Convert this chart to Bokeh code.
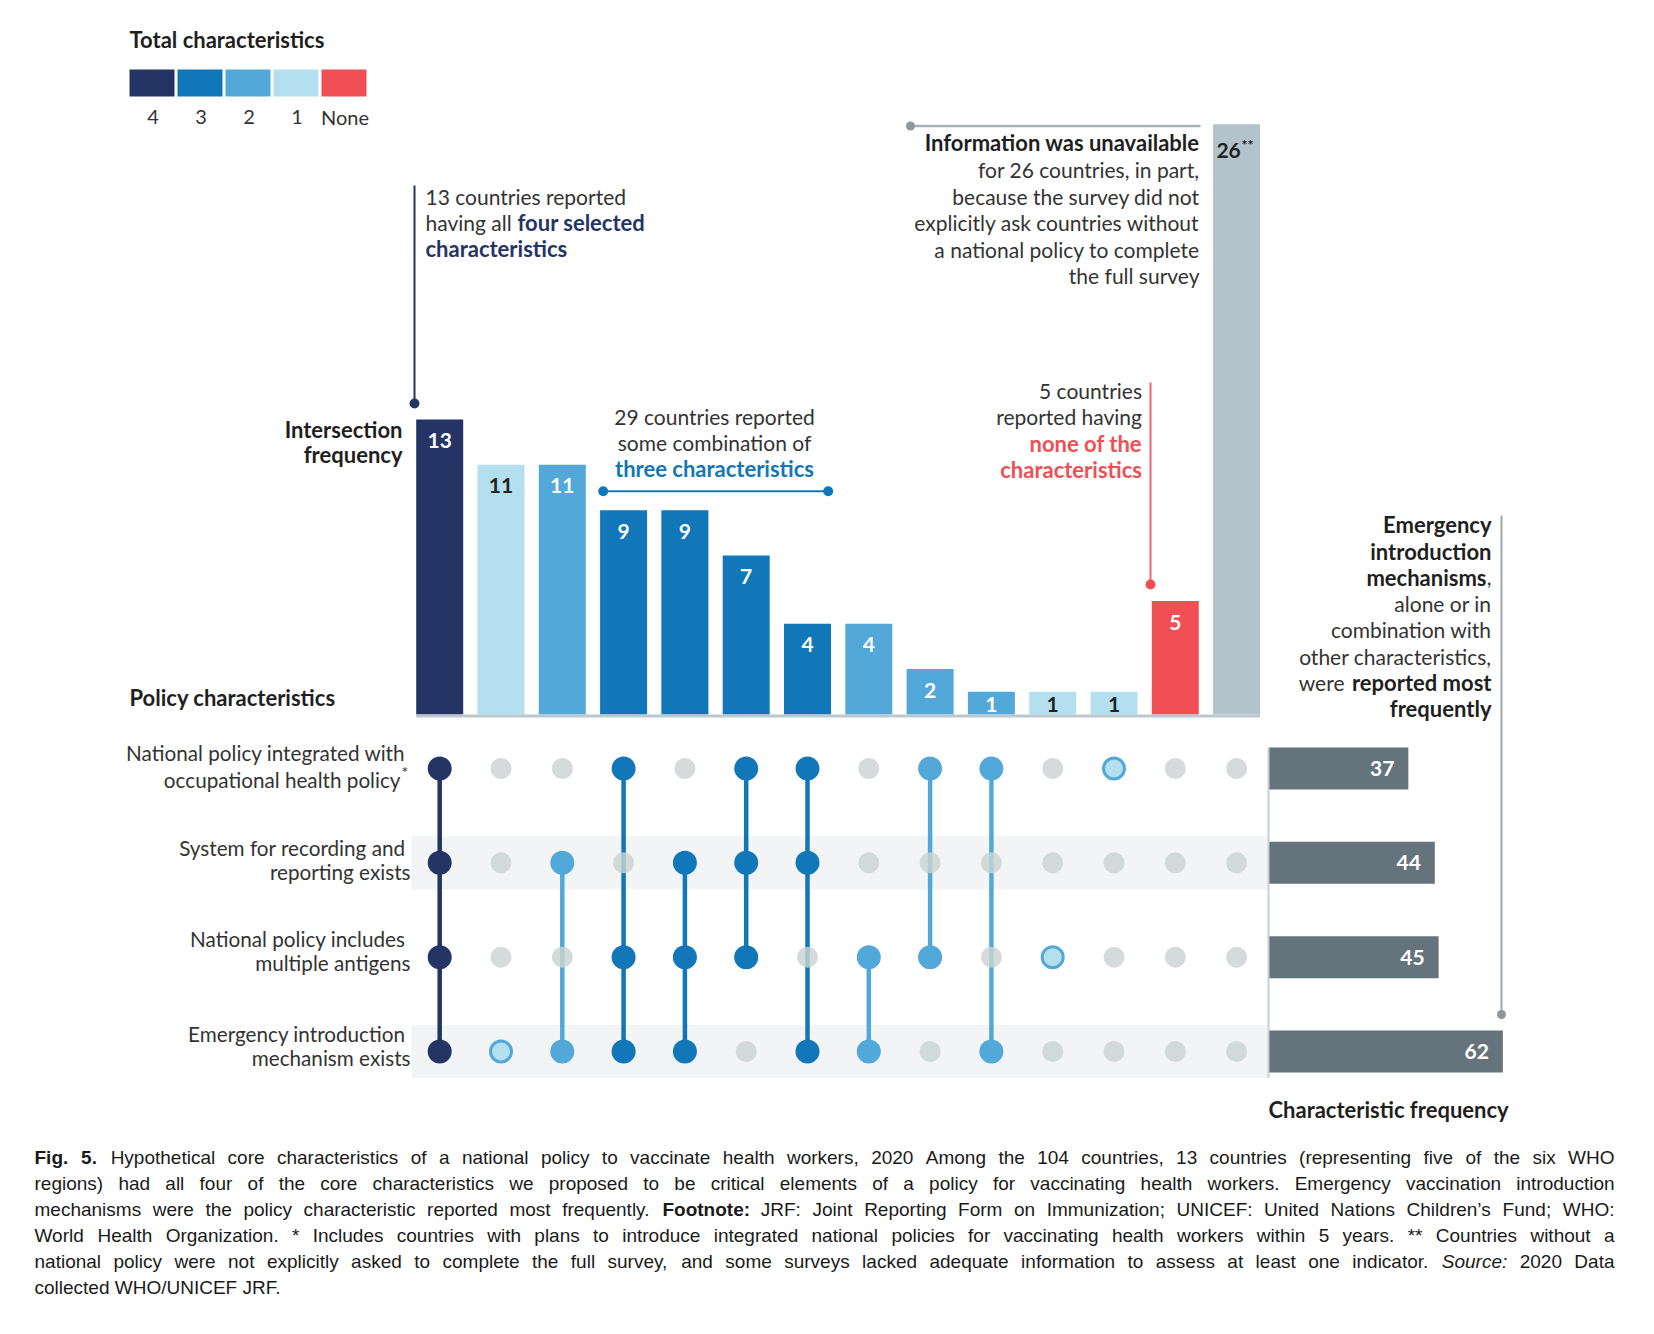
from bokeh.plotting import figure
from bokeh.models import Range1d, ColumnDataSource
from bokeh.core.properties import value
from bokeh.embed import file_html
from bokeh.resources import INLINE

# ---------------- data ----------------
ROW_LABELS = [("National policy integrated with", "occupational health policy"),
              ("System for recording and", "reporting exists"),
              ("National policy includes", "multiple antigens"),
              ("Emergency introduction", "mechanism exists")]
CHAR_FREQ = [37, 44, 45, 62]
INTERSECTION = [13, 11, 11, 9, 9, 7, 4, 4, 2, 1, 1, 1, 5, 26]
MEMBERS = [[0, 1, 2, 3], [3], [1, 3], [0, 2, 3], [1, 2, 3], [0, 1, 2], [0, 1, 3],
           [2, 3], [0, 2], [0, 3], [2], [0], [], []]
CATEGORY = ["4", "1", "2", "3", "3", "3", "3", "2", "2", "2", "1", "1", "None", "NA"]
LEGEND_KEYS = ["4", "3", "2", "1", "None"]

PALETTE = {"4": "#243465", "3": "#1177B8", "2": "#52A9D9", "1": "#B4DFEF",
           "None": "#EF4F55", "NA": "#B2C3CB"}
LABEL_DARK = {"1", "NA"}

CAPTION = [
    "**Fig. 5.** Hypothetical core characteristics of a national policy to vaccinate health workers, 2020 Among the 104 countries, 13 countries (representing five of the six WHO",
    "regions) had all four of the core characteristics we proposed to be critical elements of a policy for vaccinating health workers. Emergency vaccination introduction",
    "mechanisms were the policy characteristic reported most frequently. **Footnote:** JRF: Joint Reporting Form on Immunization; UNICEF: United Nations Children\u2019s Fund; WHO:",
    "World Health Organization. * Includes countries with plans to introduce integrated national policies for vaccinating health workers within 5 years. ** Countries without a",
    "national policy were not explicitly asked to complete the full survey, and some surveys lacked adequate information to assess at least one indicator. _Source:_ 2020 Data",
    "collected WHO/UNICEF JRF.",
]

# ---------------- layout ----------------
W, H = 1630, 1310
O = 0
COL0_X, COL_STEP = 439.2, 61.3
BASE_Y, VAL_PX = 714.0, 22.7
ROW0_Y, ROW_STEP = 768.0, 94.33
FREQ0_X, FREQ_PX = 1268.0, 3.78
BAR_W_PX = 47.0

FONT = value("Lato")
TXT = "#333333"
DARK = "#1f1f1f"
BOLD_FS = 22

p = figure(width=W, height=H, x_range=Range1d(O, O + W), y_range=Range1d(O + H, O),
           x_axis_location=None, y_axis_location=None, toolbar_location=None,
           output_backend="svg", min_border=0, outline_line_color=None,
           background_fill_color="white", border_fill_color="white")
p.xgrid.grid_line_color = None
p.ygrid.grid_line_color = None

p.extra_x_ranges = {
    "cols": Range1d((O - COL0_X) / COL_STEP, (O + W - COL0_X) / COL_STEP),
    "freq": Range1d((O - FREQ0_X) / FREQ_PX, (O + W - FREQ0_X) / FREQ_PX),
}
p.extra_y_ranges = {
    "vals": Range1d((BASE_Y - (O + H)) / VAL_PX, (BASE_Y - O) / VAL_PX),
    "rows": Range1d((O + H - ROW0_Y) / ROW_STEP, (O - ROW0_Y) / ROW_STEP),
}


def T(x, y, s, size=21, style="normal", color=TXT, align="left", font=FONT):
    if style == "bold" and size == 21:
        size = BOLD_FS
    p.text(x=[x], y=[y], text=[s], text_font=font, text_font_size=value(f"{size}px"),
           text_font_style=style, text_color=color, text_align=align,
           text_baseline="middle")


# ---- shaded bands behind rows 2 and 4 ----
p.hbar(y=[1, 3], left=(411 - COL0_X) / COL_STEP, right=(1267 - COL0_X) / COL_STEP,
       height=53 / ROW_STEP, fill_color="#F3F4F6", line_color=None,
       x_range_name="cols", y_range_name="rows")

# ---- intersection bars ----
ncol = len(INTERSECTION)
bar_src = ColumnDataSource(dict(
    x=list(range(ncol)), top=INTERSECTION,
    color=[PALETTE[c] for c in CATEGORY]))
p.vbar(x="x", top="top", bottom=0, width=BAR_W_PX / COL_STEP, fill_color="color",
       line_color=None, source=bar_src, x_range_name="cols", y_range_name="vals")
half = 0.5 * BAR_W_PX / COL_STEP
p.segment(x0=[-half], x1=[ncol - 1 + half], y0=[-1.5 / VAL_PX], y1=[-1.5 / VAL_PX],
          line_color="#BCC8CF", line_width=3, x_range_name="cols", y_range_name="vals")

last = ncol - 1
lab_y, lab_t, lab_c, lab_x = [], [], [], []
for i, v in enumerate(INTERSECTION):
    drop = min(21.0, v * VAL_PX / 2 + 1)
    dx = 0.0
    if i == last:
        drop, dx = 26.0, -8.0
    lab_x.append(i + dx / COL_STEP)
    lab_y.append(v - drop / VAL_PX)
    lab_t.append(str(v))
    lab_c.append("#222222" if CATEGORY[i] in LABEL_DARK else "white")
lab_src = ColumnDataSource(dict(x=lab_x, y=lab_y, t=lab_t, c=lab_c))
p.text(x="x", y="y", text="t", text_color="c", source=lab_src, text_font=FONT,
       text_font_size=value("21px"), text_font_style="bold", text_align="center",
       text_baseline="middle", x_range_name="cols", y_range_name="vals")
# superscript ** on the unavailable bar
p.text(x=[last + 5 / COL_STEP], y=[INTERSECTION[last] - 20 / VAL_PX], text=["**"],
       text_font=FONT, text_font_size=value("14px"), text_font_style="bold",
       text_color="#222222", text_align="left", text_baseline="middle",
       x_range_name="cols", y_range_name="vals")

# ---- matrix ----
sx0, sy0, sy1, sc = [], [], [], []
gx, gy = [], []
fx, fy, fc = [], [], []
hx, hy = [], []
for i, mem in enumerate(MEMBERS):
    col = PALETTE[CATEGORY[i]]
    if len(mem) >= 2:
        sx0.append(i); sy0.append(min(mem)); sy1.append(max(mem)); sc.append(col)
    for r in range(len(ROW_LABELS)):
        if r in mem:
            if len(mem) == 1:
                hx.append(i); hy.append(r)
            else:
                fx.append(i); fy.append(r); fc.append(col)
        else:
            gx.append(i); gy.append(r)

p.segment(x0=sx0, x1=sx0, y0=sy0, y1=sy1, line_color=sc, line_width=4.5,
          x_range_name="cols", y_range_name="rows")
p.scatter(x=gx, y=gy, size=21, fill_color="#CAD3D2", fill_alpha=0.82, line_color=None,
          x_range_name="cols", y_range_name="rows")
p.scatter(x=fx, y=fy, size=24, fill_color=fc, line_color=None,
          x_range_name="cols", y_range_name="rows")
p.scatter(x=hx, y=hy, size=21, fill_color=PALETTE["1"], line_color=PALETTE["2"],
          line_width=3, x_range_name="cols", y_range_name="rows")

# ---- characteristic frequency bars ----
rows_idx = list(range(len(CHAR_FREQ)))
p.hbar(y=rows_idx, left=0, right=CHAR_FREQ, height=42 / ROW_STEP, fill_color="#65747C",
       line_color=None, x_range_name="freq", y_range_name="rows")
p.segment(x0=[0], x1=[0], y0=[(747 - ROW0_Y) / ROW_STEP], y1=[(1077 - ROW0_Y) / ROW_STEP],
          line_color="#C5D0D6", line_width=2, x_range_name="freq", y_range_name="rows")
p.text(x=CHAR_FREQ, y=rows_idx, text=[str(v) for v in CHAR_FREQ], x_offset=-14,
       text_font=FONT, text_font_size=value("21px"), text_font_style="bold",
       text_color="white", text_align="right", text_baseline="middle",
       x_range_name="freq", y_range_name="rows")

# ---- legend ----
leg_x = [151.5 + 48 * i for i in range(len(LEGEND_KEYS))]
p.rect(x=leg_x, y=[82.5] * len(LEGEND_KEYS), width=45, height=27,
       fill_color=[PALETTE[k] for k in LEGEND_KEYS], line_color=None)
T(129, 39, "Total characteristics", style="bold", color=DARK)
for xx, k in zip(leg_x, LEGEND_KEYS):
    T(xx + 1, 116, k, size=20, align="center")

# ---- titles ----
T(402, 429, "Intersection", style="bold", color=DARK, align="right")
T(402, 454, "frequency", style="bold", color=DARK, align="right")
T(129, 697, "Policy characteristics", style="bold", color=DARK)
T(1268, 1109, "Characteristic frequency", style="bold", color=DARK)

# ---- row labels ----
row_text_y = [(752, 779), (847, 871), (938, 962), (1033, 1057)]
for (l1, l2), (y1, y2) in zip(ROW_LABELS, row_text_y):
    T(405, y1, l1, align="right", size=20.7)
    T(410 if l2 != "occupational health policy" else 400, y2, l2, align="right", size=20.7)
T(401, 771, "*", size=16)

# ---- annotation: four characteristics ----
NAVY = PALETTE["4"]
p.line(x=[414, 414], y=[185, 403], line_color=NAVY, line_width=2)
p.scatter(x=[414], y=[403], size=10, fill_color=NAVY, line_color=None)
T(425, 196, "13 countries reported")
T(425, 222, "having all")
T(517, 222, "four selected", style="bold", color=NAVY)
T(425, 248, "characteristics", style="bold", color=NAVY)

# ---- annotation: three characteristics ----
BLUE = PALETTE["3"]
T(714, 416, "29 countries reported", align="center")
T(714, 442, "some combination of", align="center")
T(714, 468, "three characteristics", style="bold", color=BLUE, align="center")
p.line(x=[602.7, 827.7], y=[490.7, 490.7], line_color=BLUE, line_width=2)
p.scatter(x=[602.7, 827.7], y=[490.7, 490.7], size=10, fill_color=BLUE, line_color=None)

# ---- annotation: none ----
RED = PALETTE["None"]
p.line(x=[1150, 1150], y=[382, 584], line_color="#F0646A", line_width=2)
p.scatter(x=[1150], y=[584], size=10, fill_color=RED, line_color=None)
T(1141.5, 390, "5 countries", align="right")
T(1141.5, 416, "reported having", align="right")
T(1141.5, 443, "none of the", style="bold", color=RED, align="right")
T(1141.5, 469, "characteristics", style="bold", color=RED, align="right")

# ---- annotation: unavailable ----
p.line(x=[910, 1200], y=[125.5, 125.5], line_color="#A9B1B5", line_width=2.5)
p.scatter(x=[910], y=[125.5], size=9, fill_color="#8E979C", line_color=None)
T(1199, 142, "Information was unavailable", style="bold", color=DARK, align="right")
for k, s in enumerate(["for 26 countries, in part,", "because the survey did not",
                       "explicitly ask countries without", "a national policy to complete",
                       "the full survey"]):
    T(1199, 169 + 26.6 * k, s, align="right")

# ---- annotation: emergency most frequent ----
p.line(x=[1501, 1501], y=[515, 1014], line_color="#A0A8AD", line_width=2)
p.scatter(x=[1501], y=[1014], size=9, fill_color="#8E979C", line_color=None)
RX = 1491
ey = [524, 550.5, 577, 603, 629, 655.5, 681.5, 708]
T(RX, ey[0], "Emergency", style="bold", color=DARK, align="right")
T(RX, ey[1], "introduction", style="bold", color=DARK, align="right")
T(RX, ey[2], ",", align="right")
T(RX - 5, ey[2], "mechanisms", style="bold", color=DARK, align="right")
T(RX, ey[3], "alone or in", align="right")
T(RX, ey[4], "combination with", align="right")
T(RX, ey[5], "other characteristics,", align="right")
T(RX, ey[6], "reported most", style="bold", color=DARK, align="right")
T(1344, ey[6], "were", align="right")
T(RX, ey[7], "frequently", style="bold", color=DARK, align="right")

# ---- caption (justified, word by word; Arial-compatible metrics) ----
ARIAL = {' ': 278, '!': 278, '"': 355, '#': 556, '$': 556, '%': 889, '&': 667, "'": 191,
         '(': 333, ')': 333, '*': 389, '+': 584, ',': 278, '-': 333, '.': 278, '/': 278,
         ':': 278, ';': 278, '?': 556, '\u2019': 222,
         'A': 667, 'B': 667, 'C': 722, 'D': 722, 'E': 667, 'F': 611, 'G': 778, 'H': 722,
         'I': 278, 'J': 500, 'K': 667, 'L': 556, 'M': 833, 'N': 722, 'O': 778, 'P': 667,
         'Q': 778, 'R': 722, 'S': 667, 'T': 611, 'U': 722, 'V': 667, 'W': 944, 'X': 667,
         'Y': 667, 'Z': 611,
         'a': 556, 'b': 556, 'c': 500, 'd': 556, 'e': 556, 'f': 278, 'g': 556, 'h': 556,
         'i': 222, 'j': 222, 'k': 500, 'l': 222, 'm': 833, 'n': 556, 'o': 556, 'p': 556,
         'q': 556, 'r': 333, 's': 500, 't': 278, 'u': 556, 'v': 500, 'w': 722, 'x': 500,
         'y': 500, 'z': 500}
CAP_FS = 19
CAP_X0, CAP_X1 = 34, 1614
cap_y0, cap_dy = 1157, 26


def word_w(wd, style):
    w = sum(ARIAL.get(c, 556) for c in wd) * CAP_FS / 1000
    return w * (1.08 if style == "bold" else 1.0)


words = {"normal": ([], [], []), "bold": ([], [], []), "italic": ([], [], [])}
for li, line in enumerate(CAPTION):
    toks = []
    bold = ital = False
    for tok in line.split(" "):
        if tok.startswith("**") and len(tok) > 2:
            bold = True
            tok = tok[2:]
        if tok.startswith("_"):
            ital = True
            tok = tok[1:]
        st = "bold" if bold else ("italic" if ital else "normal")
        if tok.endswith("**") and bold:
            tok = tok[:-2]
            bold = False
        if tok.endswith("_") and ital:
            tok = tok[:-1]
            ital = False
        toks.append((tok, st))
    widths = [word_w(t, s) for t, s in toks]
    if li < len(CAPTION) - 1:
        gap = (CAP_X1 - CAP_X0 - sum(widths)) / (len(toks) - 1)
    else:
        gap = ARIAL[' '] * CAP_FS / 1000
    x = CAP_X0
    for (t, s), w in zip(toks, widths):
        words[s][0].append(x)
        words[s][1].append(cap_y0 + cap_dy * li)
        words[s][2].append(t)
        x += w + gap

CAP_FONT = value("Liberation Sans")
for st, (xs, ys, ts) in words.items():
    if xs:
        p.text(x=xs, y=ys, text=ts, text_font=CAP_FONT, text_font_size=value(f"{CAP_FS}px"),
               text_font_style=st, text_color="#1a1a1a", text_align="left",
               text_baseline="middle")

open("out.html", "w").write(file_html(p, INLINE))
